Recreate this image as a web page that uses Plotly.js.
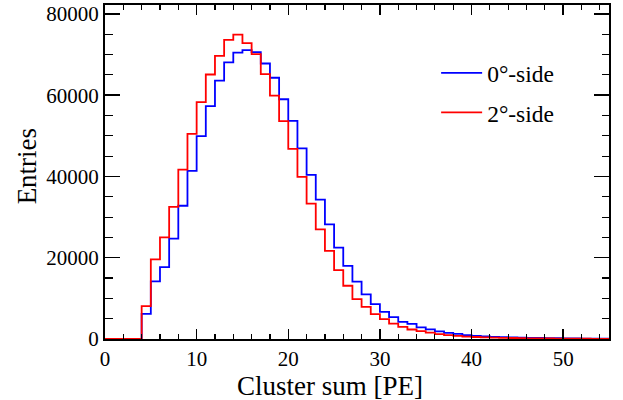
<!DOCTYPE html>
<html>
<head>
<meta charset="utf-8">
<script src="https://cdn.plot.ly/plotly-3.0.1.min.js"></script>
<style>html,body{margin:0;padding:0;background:#fff;}#chart{width:623px;height:400px;}</style>
</head>
<body>
<div id="chart"></div>
<script>
// Bin edges of the histogram (Cluster sum [PE])
const binEdges = [0,1,2,3,4,5,6,7,8,9,10,11,12,13,14,15,16,17,18,19,20,21,22,23,24,25,26,27,28,29,30,31,32,33,34,35,36,37,38,39,40,41,42,43,44,45,46,47,48,49,50,51,52,53,54,55];

// Entries per bin, 0°-side
const side0 = [0,0,0,0,6200,14200,17700,24700,32800,41400,
  49950,57300,63600,68100,70500,71100,70600,67800,64300,59000,
  53700,46900,40400,34300,28200,22500,18000,14100,11000,8600,
  6700,5400,4200,3700,2850,2380,1900,1500,1250,950,
  770,640,540,460,390,330,280,240,210,180,
  150,130,110,95,80];

// Entries per bin, 2°-side
const side2 = [0,0,0,0,8100,19600,25000,32500,41700,50500,
  58300,65100,69700,73600,74900,72800,70100,65200,59900,53600,
  46800,39900,33300,27000,21700,16950,13100,9800,7900,6100,
  4900,3800,3000,2340,1920,1550,1180,940,760,600,
  490,410,340,290,240,200,170,145,120,100,
  85,70,60,50,40];

const seriesNames = ['0°-side', '2°-side'];
const seriesColors = ['#0000ff', '#ff0000'];
const xTitle = 'Cluster sum [PE]';
const yTitle = 'Entries';

function stepValues(v) { return v.concat([v[v.length - 1]]); }

const FONT = 'Liberation Serif, Times New Roman, serif';

const traces = [side0, side2].map((vals, i) => ({
  type: 'scatter',
  mode: 'lines',
  x: binEdges,
  y: stepValues(vals),
  name: seriesNames[i],
  legendgroup: 'g' + i,
  line: { shape: 'hv', color: seriesColors[i], width: 1.8 },
  hoverinfo: 'skip'
}));

const layout = {
  width: 623,
  height: 400,
  margin: { l: 105, r: 14, t: 5, b: 61 },
  paper_bgcolor: '#ffffff',
  plot_bgcolor: '#ffffff',
  font: { family: FONT, color: '#000000', size: 21 },
  showlegend: true,
  legend: {
    x: 0.657, y: 0.862, xanchor: 'left', yanchor: 'top',
    bgcolor: 'rgba(0,0,0,0)', borderwidth: 0,
    font: { family: FONT, size: 23.5, color: '#000000' },
    traceorder: 'grouped', tracegroupgap: 6, itemwidth: 41
  },
  xaxis: {
    range: [0, 55],
    tick0: 0, dtick: 10,
    ticks: 'inside', ticklen: 10, tickwidth: 1.5, tickcolor: '#000000',
    minor: { dtick: 2, ticks: 'inside', ticklen: 5, tickwidth: 1.2, tickcolor: '#000000' },
    showline: true, linecolor: '#000000', linewidth: 2, mirror: 'allticks',
    showgrid: false, zeroline: false,
    tickfont: { family: FONT, size: 21, color: '#000000' }
  },
  yaxis: {
    range: [0, 82200],
    tick0: 0, dtick: 20000, tickformat: 'd',
    ticks: 'inside', ticklen: 15, tickwidth: 1.5, tickcolor: '#000000',
    minor: { dtick: 5000, ticks: 'inside', ticklen: 7.5, tickwidth: 1.2, tickcolor: '#000000' },
    showline: true, linecolor: '#000000', linewidth: 2, mirror: 'allticks',
    showgrid: false, zeroline: false,
    tickfont: { family: FONT, size: 21, color: '#000000' }
  },
  annotations: [{
    text: xTitle, xref: 'paper', yref: 'paper',
    x: 0.4468, y: -0.141, xanchor: 'center', yanchor: 'middle',
    showarrow: false, borderpad: 0,
    font: { family: FONT, size: 27, color: '#000000' }
  }, {
    text: yTitle, xref: 'paper', yref: 'paper',
    x: -0.154, y: 0.518, xanchor: 'center', yanchor: 'middle',
    textangle: -90, showarrow: false,
    font: { family: FONT, size: 27, color: '#000000' }
  }]
};

Plotly.newPlot('chart', traces, layout, { staticPlot: true, displayModeBar: false });
</script>
</body>
</html>
